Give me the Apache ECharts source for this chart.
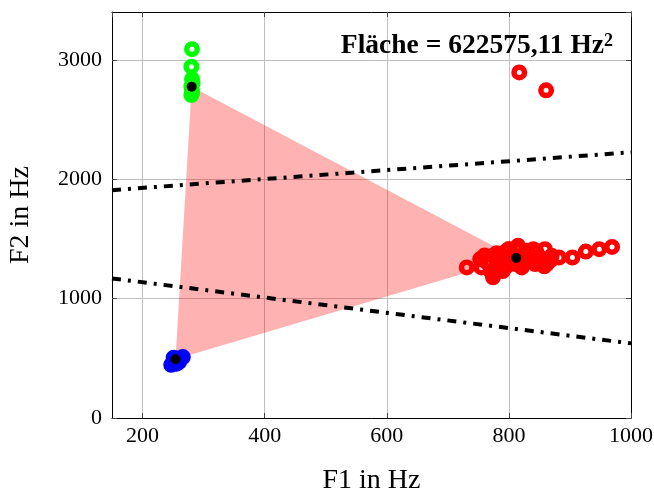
<!DOCTYPE html>
<html>
<head>
<meta charset="utf-8">
<script src="https://cdn.jsdelivr.net/npm/echarts@6/dist/echarts.min.js"></script>
<style>html,body{margin:0;padding:0;background:#fff;}#c{width:654px;height:493px;}</style>
</head>
<body>
<div id="c"></div>
<script>
// ---- data (F1, F2 in Hz) ----
const greenF1 = [281, 280, 281, 282, 280, 281, 281, 280];
const greenF2 = [3089, 2942, 2837, 2805, 2775, 2745, 2720, 2704];

const redF1 = [731, 753, 755, 774, 774, 796, 794, 815, 821, 840, 843, 859, 862, 870,
  765, 785, 785, 805, 810, 830, 830, 850, 850, 805, 780, 760, 825, 865,
  800, 815, 830, 845, 770, 790, 775, 858, 868,
  882, 904, 926, 948, 969, 817, 861];
const redF2 = [1261, 1331, 1261, 1358, 1178, 1400, 1261, 1442, 1261, 1414, 1289, 1414, 1289, 1358,
  1300, 1290, 1340, 1330, 1290, 1330, 1380, 1350, 1300, 1370, 1380, 1360, 1300, 1320,
  1415, 1405, 1400, 1390, 1230, 1230, 1210, 1270, 1320,
  1344, 1344, 1394, 1414, 1433, 2894, 2744];

const blueF1 = [247, 250, 252, 255, 258, 262, 266, 251, 260, 256];
const blueF2 = [445, 460, 470, 480, 490, 500, 510, 505, 470, 455];

// centroids of the three vowels (triangle vertices)
const centerF1 = [280.5, 812, 254];
const centerF2 = [2775, 1340, 492];

// dash-dot boundary lines
const lineF1 = [150, 1000];
const upperLineF2 = [1908, 2225];
const lowerLineF2 = [1169, 625];

const xTitle = 'F1 in Hz';
const yTitle = 'F2 in Hz';

const zip = (a, b) => a.map((v, i) => [v, b[i]]);

const serif = 'Liberation Serif';
const ringStyle = (c) => ({
  type: 'scatter', symbol: 'circle', symbolSize: 10.5,
  itemStyle: { color: 'rgba(0,0,0,0)', borderColor: c, borderWidth: 5.5, opacity: 1 },
  emphasis: { disabled: true }, z: 5
});

const axisCommon = {
  axisLine: { show: true, onZero: false, lineStyle: { color: '#000', width: 1 } },
  axisTick: { show: true, inside: true, length: 5, lineStyle: { color: '#444', width: 1 } },
  splitLine: { show: false }
};
const plain = (v) => String(v);

const chart = echarts.init(document.getElementById('c'), null, { renderer: 'canvas' });
chart.setOption({
  animation: false,
  backgroundColor: '#fff',
  grid: { left: 112, right: 23, top: 12, bottom: 75, outerBoundsMode: 'none', containLabel: false },
  xAxis: [
    Object.assign({}, axisCommon, {
      type: 'value', min: 150, max: 1000, splitNumber: 5, position: 'bottom',
      axisLabel: { showMinLabel: false, color: '#000', fontFamily: serif, fontSize: 22, margin: 7, formatter: plain },
      splitLine: { show: true, lineStyle: { color: '#bfbfbf', width: 1 } },
      name: xTitle, nameLocation: 'middle', nameGap: 49,
      nameTextStyle: { color: '#000', fontFamily: serif, fontSize: 28 }
    }),
    Object.assign({}, axisCommon, {
      type: 'value', min: 150, max: 1000, splitNumber: 5, position: 'top',
      axisLabel: { show: false }
    })
  ],
  yAxis: [
    Object.assign({}, axisCommon, {
      type: 'value', min: 0, max: 3400, interval: 1000, position: 'left',
      axisLabel: { showMaxLabel: false, color: '#000', fontFamily: serif, fontSize: 22, margin: 10, formatter: plain },
      splitLine: { show: true, lineStyle: { color: '#bfbfbf', width: 1 } },
      name: yTitle, nameLocation: 'middle', nameGap: 77, nameRotate: 90,
      nameTextStyle: { color: '#000', fontFamily: serif, fontSize: 28 }
    }),
    Object.assign({}, axisCommon, {
      type: 'value', min: 0, max: 3400, interval: 1000, position: 'right',
      axisLabel: { show: false }
    })
  ],
  series: [
    {
      type: 'custom', z: 1, silent: true,
      data: [0],
      renderItem: function (params, api) {
        const pts = centerF1.map((v, i) => api.coord([v, centerF2[i]]));
        return { type: 'polygon', shape: { points: pts }, style: { fill: 'rgba(255,0,0,0.3)' } };
      }
    },
    {
      type: 'line', data: zip(lineF1, upperLineF2), symbol: 'none', z: 3, silent: true,
      lineStyle: { color: '#000', width: 4, type: [9, 7, 3, 7], cap: 'butt' }
    },
    {
      type: 'line', data: zip(lineF1, lowerLineF2), symbol: 'none', z: 3, silent: true,
      lineStyle: { color: '#000', width: 4, type: [9, 7, 3, 7], cap: 'butt' }
    },
    Object.assign(ringStyle('#00ff00'), { data: zip(greenF1, greenF2) }),
    Object.assign(ringStyle('#ff0000'), { data: zip(redF1, redF2) }),
    Object.assign(ringStyle('#0000ff'), { data: zip(blueF1, blueF2) }),
    {
      type: 'scatter', data: zip(centerF1, centerF2), symbol: 'circle', symbolSize: 10, z: 6,
      itemStyle: { color: '#000', opacity: 1 }, emphasis: { disabled: true }
    }
  ],
  graphic: [{
    type: 'text', right: 41, top: 32, z: 10,
    style: {
      text: '{a|Fläche = 622575,11 Hz}{s|2}',
      rich: {
        a: { fontFamily: serif, fontWeight: 'bold', fontSize: 27.5, fill: '#000', verticalAlign: 'bottom', lineHeight: 28 },
        s: { fontFamily: serif, fontWeight: 'bold', fontSize: 18, fill: '#000', verticalAlign: 'top', lineHeight: 28 }
      }
    }
  }]
});
</script>
</body>
</html>
